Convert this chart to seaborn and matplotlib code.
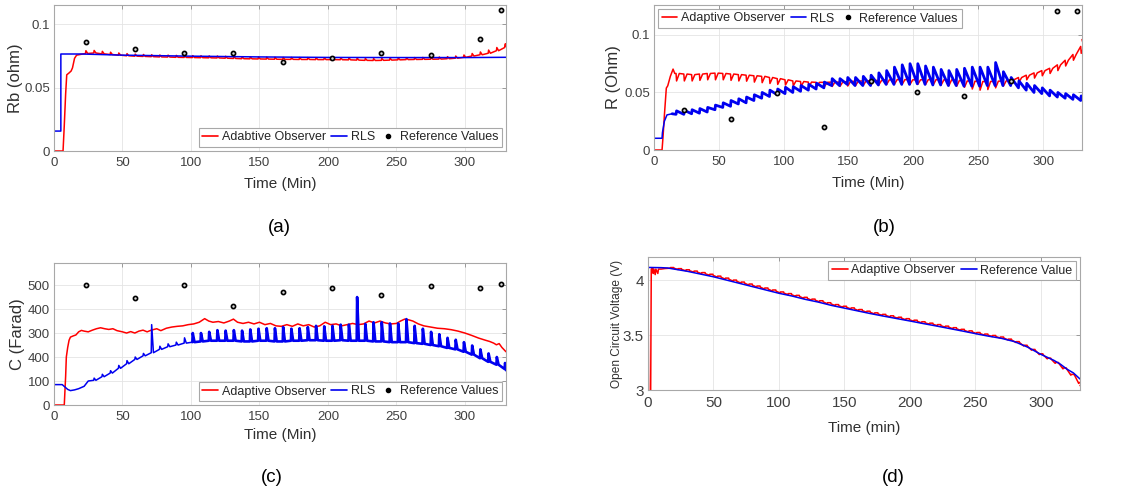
import matplotlib
matplotlib.use("Agg")
import matplotlib.pyplot as plt
from matplotlib.lines import Line2D
import seaborn as sns

# ---------------------------------------------------------------- data
# pulse instants of the discharge profile (min)
pulse_t = list(range(5, 330, 6))          # 5, 11, ..., 329

# reference measurements (HPPC points)
ref_t = [23, 59, 95, 131, 167, 203, 239, 275, 311, 326]
rb_ref = [0.0856, 0.0801, 0.0774, 0.0774, 0.0701, 0.0730, 0.0769, 0.0753, 0.0879, 0.1110]
r_ref = [0.0349, 0.0267, 0.0491, 0.0203, 0.0602, 0.0500, 0.0468, 0.0602, 0.1206, 0.1206]
c_ref = [500, 447, 500, 411, 473, 486, 459, 497, 487, 503]

# (a) series resistance Rb
rb_obs_start = [(0, 0.0), (6.6, 0.0), (7.5, 0.020), (8.5, 0.045), (9.3, 0.060), (11, 0.0615),
                (12.5, 0.063), (13.5, 0.0655), (15, 0.073), (16.5, 0.0755), (20, 0.0762)]
rb_obs_low = [0.0768, 0.0772, 0.0765, 0.0760, 0.0755, 0.0750, 0.0747, 0.0745, 0.0743, 0.0741,
              0.0740, 0.0738, 0.0737, 0.0736, 0.0735, 0.0734, 0.0733, 0.0731, 0.0729, 0.0727,
              0.0726, 0.0725, 0.0724, 0.0723, 0.0722, 0.0722, 0.0721, 0.0721, 0.0720, 0.0720,
              0.0720, 0.0719, 0.0718, 0.0716, 0.0714, 0.0713, 0.0714, 0.0716, 0.0718, 0.0720,
              0.0721, 0.0722, 0.0723, 0.0724, 0.0727, 0.0731, 0.0738, 0.0748, 0.0758, 0.0770,
              0.0790, 0.0815]
rb_obs_high = [0.0790, 0.0792, 0.0785, 0.0778, 0.0772, 0.0767, 0.0763, 0.0760, 0.0758, 0.0756,
               0.0755, 0.0753, 0.0752, 0.0751, 0.0750, 0.0749, 0.0748, 0.0746, 0.0744, 0.0742,
               0.0741, 0.0740, 0.0739, 0.0738, 0.0737, 0.0737, 0.0736, 0.0736, 0.0735, 0.0735,
               0.0735, 0.0734, 0.0733, 0.0731, 0.0729, 0.0728, 0.0729, 0.0731, 0.0733, 0.0735,
               0.0736, 0.0737, 0.0738, 0.0740, 0.0743, 0.0748, 0.0756, 0.0768, 0.0780, 0.0795,
               0.0815, 0.0842]
rb_obs_end = (330, 0.0845)
rb_rls_t = [0, 0, 5, 5, 20, 50, 100, 150, 200, 250, 300, 330]
rb_rls_v = [0.050, 0.0157, 0.0157, 0.0764, 0.0764, 0.0755, 0.0747, 0.0741, 0.0737, 0.0736, 0.0736, 0.0738]

# (b) polarisation resistance R
r_obs_start = [(0, 0.0), (6.2, 0.0), (7, 0.012), (8, 0.030), (9.5, 0.0538), (10.6, 0.0558),
               (12.6, 0.064), (14.7, 0.0703), (16, 0.0665)]
r_obs_high = [0.0665, 0.0660, 0.0655, 0.0660, 0.0665, 0.0668, 0.0665, 0.0660, 0.0655, 0.0650,
              0.0645, 0.0640, 0.0630, 0.0620, 0.0610, 0.0600, 0.0595, 0.0590, 0.0588, 0.0588,
              0.0590, 0.0590, 0.0595, 0.0598, 0.0600, 0.0603, 0.0605, 0.0610, 0.0612, 0.0612,
              0.0610, 0.0610, 0.0612, 0.0612, 0.0610, 0.0610, 0.0605, 0.0600, 0.0598, 0.0595,
              0.0595, 0.0598, 0.0600, 0.0610, 0.0630, 0.0650, 0.0670, 0.0690, 0.0710, 0.0740,
              0.0780, 0.0830, 0.0900]
r_obs_low = [0.0600, 0.0600, 0.0600, 0.0605, 0.0610, 0.0610, 0.0610, 0.0605, 0.0600, 0.0598,
             0.0590, 0.0585, 0.0578, 0.0570, 0.0565, 0.0558, 0.0553, 0.0550, 0.0550, 0.0550,
             0.0552, 0.0553, 0.0556, 0.0560, 0.0562, 0.0565, 0.0567, 0.0570, 0.0572, 0.0572,
             0.0570, 0.0570, 0.0570, 0.0568, 0.0565, 0.0560, 0.0555, 0.0545, 0.0530, 0.0520,
             0.0525, 0.0540, 0.0555, 0.0570, 0.0590, 0.0610, 0.0625, 0.0645, 0.0665, 0.0690,
             0.0730, 0.0780, 0.0840]
r_obs_end = (330, 0.096)
r_rls_start = [(0, 0.040), (0, 0.0102), (6.2, 0.0102), (6.5, 0.015), (8, 0.025), (10, 0.0305), (14, 0.0315)]
r_rls_high = [0.0340, 0.0345, 0.0350, 0.0360, 0.0370, 0.0390, 0.0410, 0.0430, 0.0445, 0.0460,
              0.0480, 0.0500, 0.0520, 0.0530, 0.0545, 0.0550, 0.0560, 0.0570, 0.0580, 0.0590,
              0.0620, 0.0620, 0.0630,
              0.0630, 0.0640, 0.0650, 0.0670, 0.0690, 0.0720, 0.0740, 0.0750, 0.0750, 0.0730,
              0.0720, 0.0700, 0.0690, 0.0700, 0.0710, 0.0720, 0.0720, 0.0720, 0.0760, 0.0680,
              0.0630, 0.0600, 0.0580, 0.0560, 0.0540, 0.0520, 0.0500, 0.0490, 0.0480, 0.0470]
r_rls_low = [0.0310, 0.0310, 0.0315, 0.0320, 0.0330, 0.0350, 0.0370, 0.0380, 0.0400, 0.0410,
             0.0430, 0.0450, 0.0465, 0.0480, 0.0490, 0.0500, 0.0510, 0.0520, 0.0530, 0.0540,
             0.0560, 0.0560, 0.0570,
             0.0560, 0.0560, 0.0560, 0.0565, 0.0570, 0.0570, 0.0570, 0.0570, 0.0575, 0.0570,
             0.0565, 0.0565, 0.0560, 0.0560, 0.0555, 0.0555, 0.0555, 0.0560, 0.0560, 0.0560,
             0.0560, 0.0540, 0.0520, 0.0500, 0.0490, 0.0470, 0.0460, 0.0450, 0.0440, 0.0430]
r_rls_end = (330, 0.044)

# (c) polarisation capacitance C
c_obs_t = [0, 7.5, 8, 8.5, 9, 10, 11, 12, 14, 16, 18, 20, 22, 25, 28, 31, 34, 37, 40, 43, 46, 50,
           53, 56, 59, 62, 65, 68, 71, 75, 78, 82, 86, 90, 94, 98, 102, 106, 110, 113, 116, 120,
           124, 128, 131, 134, 138, 142, 146, 150, 154, 158, 162, 166, 170, 174, 178, 182, 186,
           190, 194, 198, 202, 206, 210, 214, 218, 222, 226, 230, 234, 238, 242, 246, 250, 253,
           256, 259, 262, 266, 270, 275, 280, 285, 290, 295, 300, 305, 310, 315, 318, 321, 323,
           325, 327, 330]
c_obs_v = [0, 0, 60, 120, 200, 240, 270, 283, 288, 292, 305, 311, 308, 305, 312, 318, 322, 318,
           315, 318, 310, 305, 300, 306, 300, 308, 312, 305, 312, 318, 310, 320, 325, 328, 330,
           335, 338, 345, 360, 350, 345, 348, 342, 350, 358, 345, 340, 345, 338, 345, 335, 340,
           330, 328, 335, 328, 338, 330, 335, 325, 330, 345, 335, 338, 330, 335, 340, 335, 338,
           350, 342, 350, 342, 338, 340, 350, 358, 355, 350, 338, 330, 325, 320, 318, 314, 308,
           300, 290, 279, 270, 265, 258, 251, 256, 240, 222]
c_rls_start = [(0, 300), (0, 85), (6, 85), (8, 75), (10, 65), (12, 60), (15, 63), (18, 68),
               (22, 78), (25, 100)]
c_rls_low = [103, 118, 133, 153, 172, 190, 205, 218, 232, 243, 250, 258, 262, 265, 268, 268, 268,
             268, 265, 265, 268, 268, 265, 265, 268, 268, 270, 270, 268, 268, 270, 268, 268, 268,
             265, 265, 262, 262, 262, 258, 255, 250, 245, 238, 232, 222, 210, 195, 180, 168, 150]
c_rls_high = [112, 128, 143, 165, 185, 200, 215, 335, 245, 255, 262, 280, 300, 300, 305, 312, 310,
              312, 310, 315, 318, 320, 320, 325, 318, 320, 325, 330, 328, 330, 335, 335, 450, 338,
              345, 345, 340, 340, 358, 330, 318, 305, 295, 280, 272, 262, 248, 232, 215, 200, 175]
c_rls_end = (330, 145)

# (d) open circuit voltage
ocv_ref_t = [0, 10, 15, 20, 30, 40, 50, 60, 70, 80, 90, 100, 110, 120, 130, 140, 150, 160, 170,
             180, 190, 200, 210, 220, 230, 240, 250, 260, 270, 280, 290, 300, 310, 315, 320, 325, 330]
ocv_ref_v = [4.115, 4.113, 4.110, 4.100, 4.080, 4.055, 4.030, 4.000, 3.970, 3.940, 3.910, 3.880,
             3.855, 3.825, 3.800, 3.770, 3.745, 3.720, 3.695, 3.672, 3.650, 3.628, 3.605, 3.583,
             3.560, 3.537, 3.513, 3.490, 3.470, 3.440, 3.390, 3.325, 3.270, 3.235, 3.190, 3.155, 3.100]
ocv_obs_start = [(0, 4.00), (0.5, 2.90), (2, 2.90), (2.5, 4.10), (3.5, 4.11), (4, 4.06), (4.5, 4.10),
                 (5.5, 4.05), (6, 4.10), (7.5, 4.06), (8, 4.10), (10, 4.10), (13, 4.105)]
ocv_obs_low = [4.108, 4.096, 4.085, 4.072, 4.058, 4.043, 4.026, 4.008, 3.990, 3.972,
               3.954, 3.936, 3.918, 3.900, 3.882, 3.867, 3.851, 3.833, 3.817, 3.802,
               3.784, 3.767, 3.752, 3.737, 3.722, 3.707, 3.692, 3.678, 3.665, 3.652,
               3.639, 3.625, 3.611, 3.598, 3.585, 3.571, 3.557, 3.542, 3.528, 3.513,
               3.499, 3.486, 3.473, 3.455, 3.432, 3.400, 3.362, 3.322, 3.283, 3.243,
               3.192, 3.135, 3.060]
ocv_obs_high = [4.114, 4.104, 4.094, 4.082, 4.068, 4.053, 4.036, 4.018, 4.000, 3.982,
                3.964, 3.946, 3.928, 3.910, 3.892, 3.877, 3.861, 3.843, 3.827, 3.812,
                3.794, 3.777, 3.762, 3.747, 3.732, 3.717, 3.702, 3.688, 3.675, 3.662,
                3.649, 3.635, 3.621, 3.608, 3.595, 3.581, 3.567, 3.552, 3.538, 3.523,
                3.509, 3.496, 3.482, 3.463, 3.440, 3.407, 3.369, 3.329, 3.290, 3.250,
                3.200, 3.142, 3.068]
ocv_obs_end = (330, 3.04)

RED = "#ff0000"
BLUE = "#0000f0"
FONT = ["Liberation Sans", "DejaVu Sans"]


def pulse_path(start, times, lows, highs, kind, end):
    """Vertices of an estimate that reacts to every current pulse."""
    xs = [p[0] for p in start]
    ys = [p[1] for p in start]
    for t, lo, hi in zip(times, lows, highs):
        if kind == "rise":        # jump up, then relax until the next pulse
            xs += [t, t + 0.4]
            ys += [lo, hi]
        elif kind == "spike":     # short spike on top of the level
            xs += [t, t + 0.3, t + 1.6]
            ys += [lo, hi, lo]
        elif kind == "dip":       # sharp drop and recovery
            xs += [t, t + 0.4, t + 2.5]
            ys += [hi, lo, hi]
        elif kind == "step":      # small plateau above the level
            xs += [t, t + 0.2, t + 2.6, t + 2.8]
            ys += [lo, hi, hi, lo]
    xs.append(end[0])
    ys.append(end[1])
    return xs, ys


# ---------------------------------------------------------------- figure
sns.set_theme(style="whitegrid")
plt.rcParams["font.family"] = FONT
fig = plt.figure(figsize=(11.31, 4.96), dpi=100)

W, H = 1131.0, 496.0


def add_ax(l, t, r, b):
    return fig.add_axes([l / W, 1 - b / H, (r - l) / W, (b - t) / H])


axA = add_ax(54, 5, 506, 151)
axB = add_ax(654, 5, 1082, 150)
axC = add_ax(54, 263, 506, 405)
axD = add_ax(648, 257, 1080, 390)


def style(ax, xlabel, ylabel, ylim, yticks, yticklabels, ylab_x, xlab_y, ylab_size=12,
          tick_size=9.5):
    ax.set_xlim(0, 330)
    ax.set_ylim(*ylim)
    ax.set_xticks(range(0, 301, 50))
    ax.set_yticks(yticks)
    ax.set_yticklabels(yticklabels)
    ax.set_facecolor("white")
    ax.grid(True, color="#e4e4e4", linewidth=0.6)
    ax.tick_params(direction="in", length=3, width=0.6, color="#8c8c8c", labelcolor="#404040",
                   labelsize=tick_size, top=True, right=True, pad=3)
    ax.tick_params(axis="x", pad=4)
    for s in ax.spines.values():
        s.set_color("#a8a8a8")
        s.set_linewidth(0.8)
    ax.set_xlabel(xlabel, fontsize=11, color="#303030")
    ax.set_ylabel(ylabel, fontsize=ylab_size, color="#303030")
    ax.yaxis.set_label_coords(ylab_x, 0.5)
    ax.xaxis.set_label_coords(0.5, xlab_y)


def legend(ax, labels, loc, ncol, n_lines=2):
    handles = [Line2D([], [], color=RED, lw=1.2), Line2D([], [], color=BLUE, lw=1.2)][:n_lines]
    if len(labels) > n_lines:
        handles.append(Line2D([], [], ls="none", marker="o", ms=3.0, mfc="black", mec="black"))
    leg = ax.legend(handles, labels, loc=loc, ncol=ncol, frameon=True, fancybox=False,
                    edgecolor="#a8a8a8", facecolor="white", framealpha=1, fontsize=9,
                    handlelength=1.25, handletextpad=0.3, columnspacing=0.45, borderpad=0.3,
                    borderaxespad=0.3)
    leg.get_frame().set_linewidth(0.8)


def line(ax, xs, ys, color, lw):
    sns.lineplot(x=xs, y=ys, ax=ax, color=color, lw=lw, sort=False, estimator=None,
                 legend=False)


def refs(ax, vals):
    sns.scatterplot(x=ref_t, y=vals, ax=ax, s=9, color="#d8d8d8", edgecolor="black",
                    linewidth=1.2, legend=False, zorder=5)


# (a) Rb
xs, ys = pulse_path(rb_obs_start, pulse_t[3:], rb_obs_low, rb_obs_high, "spike", rb_obs_end)
line(axA, xs, ys, RED, 1.1)
line(axA, rb_rls_t, rb_rls_v, BLUE, 1.1)
refs(axA, rb_ref)
style(axA, "Time (Min)", "Rb (ohm)", (0, 0.115), [0, 0.05, 0.1], ["0", "0.05", "0.1"],
      -0.069, -0.178)
legend(axA, ["Adabtive Observer", "RLS", "Reference Values"], "lower right", 3)

# (b) R
xs, ys = pulse_path(r_obs_start, pulse_t[2:], r_obs_low, r_obs_high, "dip", r_obs_end)
line(axB, xs, ys, RED, 1.1)
xs, ys = pulse_path(r_rls_start, pulse_t[2:], r_rls_low, r_rls_high, "rise", r_rls_end)
line(axB, xs[:7], ys[:7], BLUE, 1.1)
line(axB, xs[6:], ys[6:], BLUE, 2.0)
refs(axB, r_ref)
style(axB, "Time (Min)", "R (Ohm)", (0, 0.126), [0, 0.05, 0.1], ["0", "0.05", "0.1"],
      -0.077, -0.177)
legend(axB, ["Adaptive Observer", "RLS", "Reference Values"], "upper left", 3)

# (c) C
line(axC, c_obs_t, c_obs_v, RED, 1.1)
xs, ys = pulse_path(c_rls_start, pulse_t[4:], c_rls_low, c_rls_high, "spike", c_rls_end)
cut = len(c_rls_start) + 3 * 12
line(axC, xs[:cut + 1], ys[:cut + 1], BLUE, 1.1)
line(axC, xs[cut:], ys[cut:], BLUE, 1.9)
refs(axC, c_ref)
style(axC, "Time (Min)", "C (Farad)", (0, 592), [0, 100, 200, 300, 400, 500],
      ["0", "100", "400", "300", "400", "500"], -0.064, -0.16)
legend(axC, ["Adaptive Observer", "RLS", "Reference Values"], "lower right", 3)

# (d) open circuit voltage
xs, ys = pulse_path(ocv_obs_start, pulse_t[2:], ocv_obs_low, ocv_obs_high, "step", ocv_obs_end)
line(axD, xs, ys, RED, 1.1)
line(axD, ocv_ref_t, ocv_ref_v, BLUE, 1.1)
style(axD, "Time (min)", "Open Circuit Voltage (V)", (3, 4.21), [3, 3.5, 4], ["3", "3.5", "4"],
      -0.058, -0.231, ylab_size=8.6, tick_size=11)
legend(axD, ["Adaptive Observer", "Reference Value"], "upper right", 2)

# sub-figure captions
for x, y, s in [(279, 228, "(a)"), (884, 228, "(b)"), (272, 478, "(c)"), (893, 478, "(d)")]:
    fig.text(x / W, 1 - y / H, s, ha="center", va="center", fontsize=13.5, color="black")

fig.savefig("out.png", dpi=100)
